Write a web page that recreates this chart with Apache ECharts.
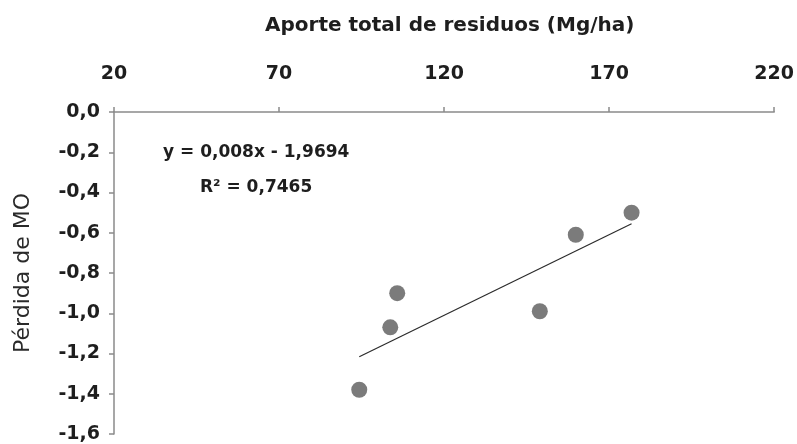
<!DOCTYPE html>
<html>
<head>
<meta charset="utf-8">
<script src="https://cdn.jsdelivr.net/npm/echarts@6/dist/echarts.min.js"></script>
<style>
html,body{margin:0;padding:0;background:#fff;}
#chart{width:797px;height:444px;}
</style>
</head>
<body>
<div id="chart"></div>
<script>
// aporte total de residuos (Mg/ha) vs perdida de MO
const aporte = [94.3, 103.7, 105.8, 149.0, 159.9, 176.8]
const perdida = [-1.38, -1.07, -0.90, -0.99, -0.61, -0.50]
// linea de tendencia (y = 0,008x - 1,9694)
const trendX = [94.3, 176.8]
const trendY = [-1.216, -0.555]
const xTicks = [20, 70, 120, 170, 220]
const yTicks = [0, -0.2, -0.4, -0.6, -0.8, -1.0, -1.2, -1.4, -1.6]

let chart = echarts.init(document.getElementById('chart'))
let puntos = []
for(let i = 0;i<aporte.length;i++){
    puntos.push([aporte[i], perdida[i]])
}
let tendencia = []
for(let i = 0;i<trendX.length;i++){
    tendencia.push([trendX[i], trendY[i]])
}
const fuente = 'DejaVu Sans'
chart.setOption({
    animation:false,
    grid:{left:114, top:112, width:661, height:322},
    xAxis:{
        type:'value',
        position:'top',
        min:xTicks[0], max:xTicks[xTicks.length-1], interval:50,
        axisLine:{show:true, lineStyle:{color:'#8a8a8a', width:1.5}},
        axisTick:{show:true, length:5, lineStyle:{color:'#8a8a8a', width:1.5}},
        axisLabel:{fontFamily:fuente, fontWeight:'bold', fontSize:19, color:'#1e1e1e', margin:28},
        splitLine:{show:false}
    },
    yAxis:{
        type:'value',
        min:yTicks[yTicks.length-1], max:yTicks[0], interval:0.2,
        name:'Pérdida de MO',
        nameLocation:'middle',
        nameGap:80,
        nameTextStyle:{fontFamily:fuente, fontSize:22, color:'#2a2a2a'},
        axisLine:{show:true, lineStyle:{color:'#8a8a8a', width:1.5}},
        axisTick:{show:true, length:5, lineStyle:{color:'#8a8a8a', width:1.5}},
        axisLabel:{fontFamily:fuente, fontWeight:'bold', fontSize:19, color:'#1e1e1e', margin:14,
            formatter:(v)=>v.toFixed(1).replace('.', ',')},
        splitLine:{show:false}
    },
    graphic:[
        {type:'text', left:265, top:16, style:{text:'Aporte total de residuos (Mg/ha)', fontFamily:fuente, fontWeight:'bold', fontSize:20, fill:'#1e1e1e'}},
        {type:'text', left:163, top:144, style:{text:'y = 0,008x - 1,9694', fontFamily:fuente, fontWeight:'bold', fontSize:17, fill:'#1e1e1e'}},
        {type:'text', left:200, top:179, style:{text:'R² = 0,7465', fontFamily:fuente, fontWeight:'bold', fontSize:17, fill:'#1e1e1e'}}
    ],
    series:[
        {
            type:'line',
            data:tendencia,
            symbol:'none',
            lineStyle:{color:'#2b2b2b', width:1.2},
            z:1
        },
        {
            type:'scatter',
            data:puntos,
            symbolSize:16,
            itemStyle:{color:'#7b7b7b', opacity:1},
            z:2
        }
    ]
})
</script>
</body>
</html>
